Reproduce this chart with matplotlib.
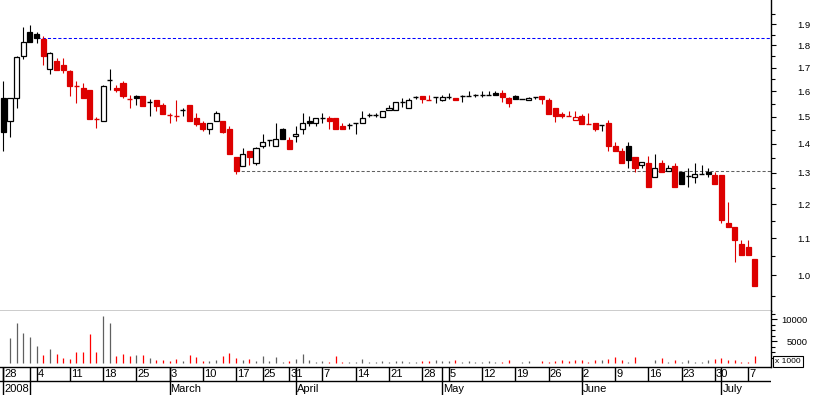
import matplotlib

matplotlib.use("Agg")
import matplotlib.pyplot as plt
from matplotlib.patches import Rectangle
from matplotlib.ticker import FixedLocator, NullFormatter

plt.rcParams["font.family"] = ["Liberation Sans", "DejaVu Sans"]

RED = "#dd0000"
VOL_RED = "#ff0000"
VOL_GREY = "#606060"
GREY_LINE = "#606060"
BLUE_LINE = "#0000ff"

# daily OHLC, one entry per trading day from 28 Jan 2008
opens = [1.572, 1.485, 1.572, 1.752, 1.861, 1.853, 1.831, 1.693, 1.730, 1.712,
         1.686, 1.622, 1.615, 1.606, 1.490, 1.485, 1.646, 1.616, 1.635, 1.570,
         1.582, 1.582, 1.559, 1.566, 1.546, 1.506, 1.504, 1.527, 1.546, 1.495,
         1.476, 1.455, 1.485, 1.484, 1.454, 1.354, 1.324, 1.374, 1.334, 1.393,
         1.415, 1.393, 1.453, 1.414, 1.427, 1.455, 1.484, 1.475, 1.496, 1.494,
         1.494, 1.464, 1.469, 1.475, 1.475, 1.507, 1.507, 1.500, 1.525, 1.525,
         1.556, 1.533, 1.577, 1.582, 1.567, 1.577, 1.566, 1.578, 1.574, 1.581,
         1.581, 1.585, 1.585, 1.586, 1.594, 1.594, 1.572, 1.582, 1.568, 1.564,
         1.577, 1.582, 1.566, 1.533, 1.511, 1.501, 1.486, 1.503, 1.472, 1.476,
         1.468, 1.476, 1.392, 1.374, 1.392, 1.354, 1.325, 1.333, 1.286, 1.333,
         1.305, 1.323, 1.303, 1.290, 1.286, 1.295, 1.303, 1.292, 1.292, 1.143,
         1.132, 1.084, 1.076, 1.043]
highs = [1.644, 1.572, 1.752, 1.885, 1.896, 1.863, 1.844, 1.770, 1.742, 1.742,
         1.690, 1.644, 1.635, 1.606, 1.498, 1.627, 1.695, 1.627, 1.644, 1.586,
         1.586, 1.582, 1.570, 1.566, 1.554, 1.513, 1.566, 1.533, 1.546, 1.513,
         1.484, 1.475, 1.522, 1.484, 1.465, 1.354, 1.384, 1.374, 1.390, 1.434,
         1.415, 1.478, 1.456, 1.426, 1.465, 1.513, 1.503, 1.494, 1.516, 1.503,
         1.494, 1.475, 1.478, 1.475, 1.522, 1.516, 1.516, 1.523, 1.546, 1.556,
         1.572, 1.572, 1.582, 1.582, 1.586, 1.577, 1.586, 1.593, 1.574, 1.586,
         1.603, 1.589, 1.603, 1.603, 1.603, 1.606, 1.577, 1.585, 1.568, 1.577,
         1.577, 1.582, 1.572, 1.533, 1.520, 1.522, 1.522, 1.512, 1.515, 1.476,
         1.468, 1.488, 1.406, 1.384, 1.406, 1.354, 1.335, 1.357, 1.364, 1.343,
         1.326, 1.333, 1.303, 1.316, 1.333, 1.326, 1.316, 1.303, 1.292, 1.207,
         1.132, 1.095, 1.095, 1.043]
lows = [1.375, 1.426, 1.535, 1.737, 1.815, 1.810, 1.712, 1.675, 1.692, 1.676,
        1.582, 1.555, 1.575, 1.492, 1.459, 1.485, 1.606, 1.599, 1.574, 1.534,
        1.547, 1.542, 1.503, 1.523, 1.511, 1.478, 1.485, 1.503, 1.485, 1.465,
        1.448, 1.435, 1.485, 1.438, 1.364, 1.295, 1.324, 1.326, 1.327, 1.386,
        1.393, 1.393, 1.417, 1.381, 1.405, 1.437, 1.466, 1.466, 1.478, 1.455,
        1.455, 1.453, 1.455, 1.437, 1.475, 1.498, 1.498, 1.498, 1.525, 1.525,
        1.537, 1.533, 1.568, 1.555, 1.567, 1.555, 1.562, 1.568, 1.567, 1.559,
        1.581, 1.577, 1.577, 1.586, 1.586, 1.559, 1.537, 1.568, 1.568, 1.564,
        1.568, 1.548, 1.511, 1.479, 1.496, 1.501, 1.486, 1.474, 1.472, 1.448,
        1.448, 1.375, 1.375, 1.334, 1.316, 1.303, 1.317, 1.254, 1.286, 1.303,
        1.305, 1.254, 1.264, 1.254, 1.268, 1.295, 1.287, 1.264, 1.144, 1.133,
        1.036, 1.055, 1.053, 0.974]
closes = [1.444, 1.572, 1.746, 1.814, 1.815, 1.836, 1.753, 1.764, 1.692, 1.690,
          1.624, 1.622, 1.575, 1.492, 1.490, 1.624, 1.646, 1.605, 1.582, 1.570,
          1.575, 1.542, 1.559, 1.542, 1.511, 1.506, 1.504, 1.527, 1.485, 1.473,
          1.455, 1.475, 1.513, 1.444, 1.364, 1.305, 1.364, 1.355, 1.384, 1.405,
          1.415, 1.416, 1.417, 1.381, 1.435, 1.475, 1.476, 1.494, 1.496, 1.485,
          1.455, 1.453, 1.469, 1.475, 1.494, 1.507, 1.507, 1.523, 1.533, 1.556,
          1.556, 1.564, 1.577, 1.568, 1.567, 1.577, 1.577, 1.578, 1.567, 1.581,
          1.581, 1.585, 1.585, 1.586, 1.586, 1.577, 1.555, 1.568, 1.568, 1.572,
          1.577, 1.568, 1.511, 1.504, 1.503, 1.501, 1.499, 1.474, 1.472, 1.455,
          1.468, 1.393, 1.375, 1.334, 1.343, 1.317, 1.335, 1.254, 1.316, 1.303,
          1.316, 1.254, 1.264, 1.290, 1.295, 1.295, 1.295, 1.264, 1.153, 1.133,
          1.096, 1.055, 1.053, 0.974]
# volume in thousands of shares
volume = [0, 5750, 9230, 6950, 6050, 4000, 1950, 3250, 2200, 1270,
          980, 2640, 2640, 6730, 2640, 10820, 9230, 1660, 2200, 1660,
          1950, 1950, 1270, 750, 750, 590, 980, 590, 1950, 1430,
          590, 590, 750, 1660, 2410, 1270, 750, 980, 590, 1660,
          590, 1360, 230, 530, 980, 2050, 760, 380, 610, 300,
          1670, 380, 380, 380, 980, 300, 300, 530, 230, 530,
          530, 380, 380, 530, 610, 760, 530, 530, 760, 380,
          530, 230, 380, 530, 230, 230, 760, 80, 230, 530,
          80, 530, 230, 530, 760, 530, 760, 760, 230, 760,
          760, 980, 1520, 760, 230, 1520, 0, 0, 760, 1290,
          380, 760, 230, 760, 380, 380, 760, 980, 1290, 760,
          760, 230, 380, 1740]

day_ticks = [0, 5, 10, 15, 20, 25, 30, 35, 39, 43, 48, 53, 58, 63,
             67, 72, 77, 82, 87, 92, 97, 102, 107, 112]
day_labels = ["28", "4", "11", "18", "25", "3", "10", "17", "25", "31", "7",
              "14", "21", "28", "5", "12", "19", "26", "2", "9", "16", "23",
              "30", "7"]
month_starts = [0, 4, 25, 44, 66, 87, 108]
month_labels = ["2008", "", "March", "April", "May", "June", "July"]

price_ticks = [1.0, 1.1, 1.2, 1.3, 1.4, 1.5, 1.6, 1.7, 1.8, 1.9]
resistance, resistance_from = 1.835, 5
support, support_from = 1.305, 35

W, H = 817, 395
XLIM = (-0.5, 115.45)
BODY = 0.76


def colour(i):
    return RED if i > 0 and closes[i] < closes[i - 1] else "black"


fig = plt.figure(figsize=(W / 100, H / 100), dpi=100)
right = 771 / W
ax = fig.add_axes([0, (H - 311) / H, right, 311 / H])
axv = fig.add_axes([0, (H - 366.7) / H, right, 55.7 / H])
axd = fig.add_axes([0, 0, right, (H - 366.7) / H])

# price panel
for i in range(len(closes)):
    c = colour(i)
    ax.vlines(i, lows[i], highs[i], color=c, lw=0.8, zorder=2)
    if closes[i] == opens[i]:
        ax.hlines(closes[i], i - BODY / 2, i + BODY / 2, color=c, lw=1.0, zorder=3)
    else:
        lo, hi = min(opens[i], closes[i]), max(opens[i], closes[i])
        face = "white" if closes[i] > opens[i] else c
        ax.add_patch(Rectangle((i - BODY / 2, lo), BODY, hi - lo, facecolor=face,
                               edgecolor=c, lw=0.9, zorder=3))

ax.hlines(resistance, resistance_from, XLIM[1], color=BLUE_LINE, lw=0.75,
          linestyles=(0, (3, 2)), zorder=1)
ax.hlines(support, support_from, XLIM[1], color=GREY_LINE, lw=0.75,
          linestyles=(0, (3, 2)), zorder=1)

ax.set_yscale("log")
ax.set_xlim(*XLIM)
ax.set_ylim(0.9133, 2.021)
ax.set_xticks([])
ax.yaxis.tick_right()
ax.yaxis.set_major_locator(FixedLocator(price_ticks))
ax.yaxis.set_minor_locator(FixedLocator([t + 0.05 for t in [0.9] + price_ticks]))
ax.yaxis.set_minor_formatter(NullFormatter())
ax.set_yticklabels([f"{t:.1f}" for t in price_ticks])
ax.tick_params(axis="y", which="major", direction="out", length=3.8, width=0.8,
               pad=15, labelsize=6.8)
ax.tick_params(axis="y", which="minor", direction="out", length=2.6, width=0.8)
for s in ("top", "left"):
    ax.spines[s].set_visible(False)
for s in ("right", "bottom"):
    ax.spines[s].set_linewidth(1.0)

# volume panel
for i, v in enumerate(volume):
    if v:
        axv.vlines(i, 0, v, color=VOL_RED if colour(i) == RED else VOL_GREY, lw=0.9)
axv.set_xlim(*XLIM)
axv.set_ylim(-773, 11886)
axv.set_xticks([])
axv.yaxis.tick_right()
axv.yaxis.set_major_locator(FixedLocator([5000, 10000]))
axv.yaxis.set_minor_locator(FixedLocator([1250, 2500, 3750, 6250, 7500, 8750, 11250]))
axv.tick_params(axis="y", which="major", direction="out", length=4.3, width=0.8,
                pad=22, labelsize=6.8)
axv.tick_params(axis="y", which="minor", direction="out", length=3, width=0.8)
for lab in axv.get_yticklabels():
    lab.set_horizontalalignment("right")
for s in ("top", "left"):
    axv.spines[s].set_visible(False)
for s in ("right", "bottom"):
    axv.spines[s].set_linewidth(1.0)
fig.text(775 / W, (H - 361.5) / H, "x 1000", fontsize=6, ha="left", va="center",
         bbox=dict(boxstyle="square,pad=0.25", fc="white", ec="black", lw=0.8))

# date strip
axd.set_xlim(*XLIM)
axd.set_ylim(0, 1)
axd.axis("off")
row = 0.505
axd.axhline(row, color="black", lw=1.0)
axd.vlines(day_ticks, row, 1, color="black", lw=1.0)
axd.vlines(month_starts, 0, 1, color="black", lw=1.0)
for t, lab in zip(day_ticks, day_labels):
    axd.text(t + 0.15, 0.75, lab, fontsize=8, ha="left", va="center")
for t, lab in zip(month_starts, month_labels):
    axd.text(t + 0.15, 0.22, lab, fontsize=8, ha="left", va="center")

fig.savefig("out.png", dpi=100, facecolor="white")
